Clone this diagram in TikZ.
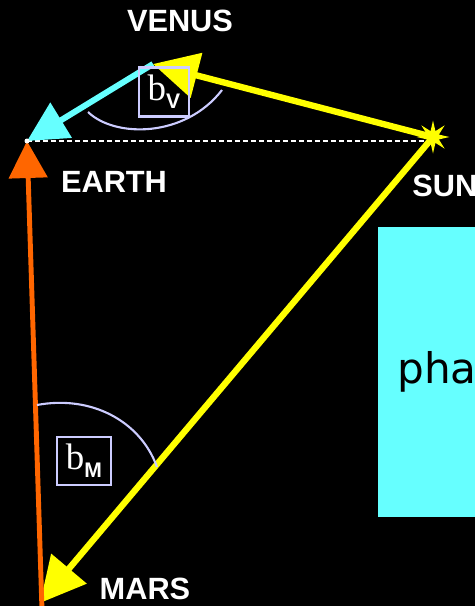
\documentclass[tikz,border=0pt]{standalone}
\usepackage{fontspec}
\setmainfont{Liberation Sans}
\newfontfamily\serifface{Liberation Serif}
\newfontfamily\phaseface{DejaVu Sans}
\usetikzlibrary{arrows.meta,positioning,shapes.geometric}
\definecolor{SkyCyan}{RGB}{102,255,255}
\definecolor{SunYellow}{RGB}{255,255,0}
\definecolor{MarsOrange}{RGB}{255,102,0}
\definecolor{Lavender}{RGB}{204,204,255}

\begin{document}
\begin{tikzpicture}[
    x=0.02cm, y=-0.02cm,
    planet/.style={font=\fontsize{17.5}{20}\selectfont\bfseries, text=white, inner sep=0pt},
    angbox/.style={draw=Lavender, line width=1.2pt, minimum width=1cm, minimum height=0.98cm,
      inner sep=0pt, text=white},
    angarc/.style={draw=Lavender, line width=1.2pt},
    yarr/.style={-{Triangle[length=0.9cm, width=0.9cm]}, line width=3.6pt, draw=SunYellow},
    carr/.style={-{Triangle[length=0.8cm, width=0.8cm]}, line width=3.4pt, draw=SkyCyan},
    oarr/.style={-{Triangle[length=0.74cm, width=0.76cm]}, line width=2.8pt, draw=MarsOrange}
  ]
    \useasboundingbox (0,0) rectangle (475,606);
    \fill[black] (0,0) rectangle (475,606);
    \clip (0,0) rectangle (475,606);

    % bodies
    \coordinate (earth) at (27,141);
    \coordinate (venus) at (153,64);
    \coordinate (mars) at (40,603);
    \coordinate (marsbase) at (42,610);
    \node[star, star points=8, star point ratio=2.6, fill=SunYellow, minimum size=0.66cm,
      inner sep=0pt] (sun) at (433,137) {};
    \coordinate (sunfoot) at (428,141);

    % phase panel
    \node[fill=SkyCyan, anchor=north west, minimum width=2.2cm, minimum height=5.8cm,
      inner sep=0pt] (phase) at (378,227) {};
    \node[anchor=base west, inner sep=0pt, font=\phaseface\fontsize{24}{26}\selectfont]
      (phatext) at (397,383) {pha};

    % baseline
    \draw[white, line width=0.8pt, dash pattern=on 0.1cm off 0.06cm] (earth) -- (sunfoot);

    % vectors
    \draw[carr] (venus) -- (earth);
    \draw[yarr] (sun.center) -- (venus);
    \draw[yarr] (sun.center) -- (mars);
    \draw[oarr] (marsbase) -- (earth);
    \fill[white] (earth) circle (2.5);

    % angles
    \draw[angarc] (88,112) .. controls (115,138) and (185,138) .. (222,90);
    \draw[angarc] (37,405) .. controls (90,395) and (140,420) .. (157,467);
    \node[angbox] (bv) at (164,92)
      {{\serifface\fontsize{21}{22}\selectfont b}\raisebox{-0.16cm}{\fontsize{12}{12}\selectfont\bfseries V}};
    \node[angbox, minimum width=1.08cm, minimum height=0.96cm] (bm) at (84,461)
      {{\serifface\fontsize{21}{22}\selectfont b}\raisebox{-0.16cm}{\fontsize{12}{12}\selectfont\bfseries M}};

    % labels
    \node[planet] (venuslabel) at (180,21) {VENUS};
    \node[planet] (earthlabel) at (114,182) {EARTH};
    \node[planet, anchor=west] (sunlabel) at (412,186) {SUN};
    \node[planet] (marslabel) at (145,589) {MARS};
  \end{tikzpicture}
\end{document}
